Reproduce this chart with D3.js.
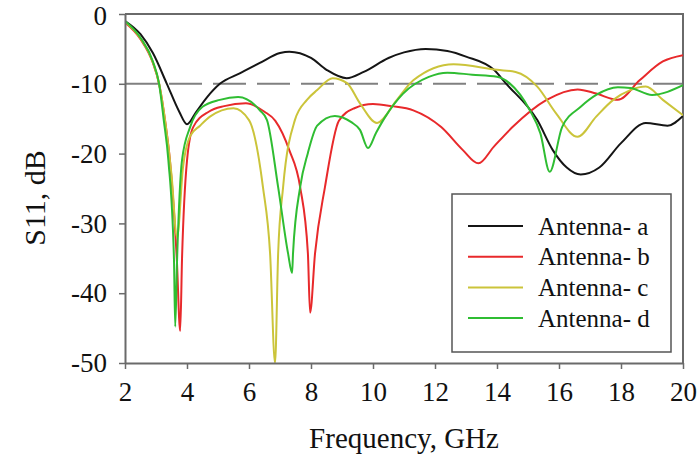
<!DOCTYPE html>
<html>
<head>
<meta charset="utf-8">
<script src="https://cdn.jsdelivr.net/npm/d3@7"></script>
<style>
  html, body { margin: 0; padding: 0; background: #fff; }
  svg { display: block; }
  text { font-family: "Liberation Serif", "Times New Roman", serif; fill: #111; }
</style>
</head>
<body>
<svg id="chart" width="700" height="474"></svg>
<script>
// Frequency sweep (GHz) and return loss S11 (dB) for each antenna
const freqA = [2.0, 2.5, 2.9, 3.35, 3.75, 4.0, 4.3, 4.65, 5.06, 5.7, 6.35, 7.0, 7.3, 8.0, 8.5, 9.15, 9.7, 10.5, 11.0, 11.7, 12.4, 13.0, 13.9, 14.3, 15.3, 15.8, 16.25, 16.7, 17.3, 18.0, 18.8, 19.5, 20.0];
const s11A  = [-1.0, -2.9, -5.6, -10.0, -14.0, -15.8, -14.0, -11.9, -10.0, -8.5, -7.0, -5.6, -5.4, -6.3, -8.0, -9.2, -8.3, -6.3, -5.5, -5.0, -5.3, -6.1, -8.0, -10.0, -15.2, -19.5, -22.0, -23.0, -22.0, -18.5, -15.6, -16.0, -14.6];

const freqB = [2.0, 2.5, 2.9, 3.1, 3.3, 3.45, 3.67, 3.78, 3.84, 4.0, 4.2, 4.7, 5.2, 5.9, 6.5, 6.85, 7.3, 7.65, 7.9, 7.97, 8.13, 8.45, 8.9, 9.4, 10.0, 10.6, 11.3, 12.2, 12.9, 13.4, 13.9, 14.5, 15.6, 16.6, 17.2, 17.9, 18.6, 19.35, 20.0];
const s11B  = [-1.2, -3.6, -7.0, -10.0, -15.5, -21.0, -35.0, -45.4, -35.0, -21.0, -16.2, -14.0, -13.2, -12.8, -14.0, -15.3, -19.5, -24.8, -34.3, -42.8, -34.3, -24.8, -15.3, -13.5, -12.9, -13.2, -13.8, -16.2, -19.5, -21.4, -19.0, -16.2, -12.3, -10.8, -11.4, -12.3, -9.5, -6.8, -5.9];

const freqC = [2.0, 2.5, 2.9, 3.1, 3.3, 3.5, 3.68, 3.87, 4.1, 4.42, 4.74, 5.5, 6.0, 6.45, 6.68, 6.84, 6.94, 7.1, 7.48, 7.87, 8.2, 8.7, 9.16, 9.58, 10.13, 10.77, 11.3, 12.6, 14.0, 14.6, 15.3, 15.9, 16.6, 17.2, 17.75, 18.3, 18.8, 19.35, 20.0];
const s11C  = [-1.1, -3.5, -6.9, -10.0, -15.5, -23.0, -32.0, -22.0, -17.5, -16.0, -14.7, -13.5, -15.2, -24.8, -34.3, -50.0, -34.3, -24.8, -15.2, -12.3, -10.9, -9.2, -9.9, -12.8, -15.6, -12.3, -9.5, -7.2, -8.0, -8.3, -10.4, -14.2, -17.6, -14.7, -12.3, -10.9, -10.4, -12.3, -14.5];

const freqD = [2.0, 2.5, 2.9, 3.1, 3.25, 3.4, 3.58, 3.62, 3.68, 3.84, 4.1, 4.5, 5.06, 5.65, 6.35, 6.58, 6.94, 7.26, 7.39, 7.42, 7.65, 7.9, 8.2, 8.77, 9.3, 9.58, 9.84, 10.1, 10.4, 10.97, 11.8, 12.4, 13.2, 14.0, 14.4, 15.06, 15.4, 15.7, 16.1, 16.7, 17.2, 17.9, 18.3, 19.0, 20.0];
const s11D  = [-1.0, -3.4, -6.8, -10.0, -15.2, -21.0, -35.2, -44.8, -35.2, -20.9, -16.2, -13.3, -12.3, -11.9, -13.8, -15.2, -24.8, -34.3, -37.1, -34.3, -24.8, -19.9, -16.0, -14.6, -15.5, -16.6, -19.2, -17.0, -14.7, -11.4, -9.0, -8.4, -8.7, -9.0, -9.9, -13.8, -17.1, -22.6, -16.2, -13.3, -11.6, -10.5, -10.6, -11.6, -10.2];

const seriesNames = ["Antenna- a", "Antenna- b", "Antenna- c", "Antenna- d"];
const seriesColors = ["#151515", "#e8292b", "#cbc43a", "#2fbd32"];
const xTicks = [2, 4, 6, 8, 10, 12, 14, 16, 18, 20];
const yTicks = [0, -10, -20, -30, -40, -50];
const threshold = -10;

const series = [
  { name: seriesNames[0], color: seriesColors[0], pts: freqA.map((f, i) => [f, s11A[i]]) },
  { name: seriesNames[1], color: seriesColors[1], pts: freqB.map((f, i) => [f, s11B[i]]) },
  { name: seriesNames[2], color: seriesColors[2], pts: freqC.map((f, i) => [f, s11C[i]]) },
  { name: seriesNames[3], color: seriesColors[3], pts: freqD.map((f, i) => [f, s11D[i]]) }
];

const svg = d3.select("#chart");
const plot = { left: 125, right: 683, top: 14, bottom: 363 };

const x = d3.scaleLinear().domain([2, 20]).range([plot.left, plot.right]);
const y = d3.scaleLinear().domain([-50, 0]).range([plot.bottom, plot.top]);

const axisColor = "#6a6a6a";
const serif = "'Liberation Serif', 'Times New Roman', serif";

svg.append("defs").append("clipPath").attr("id", "plotClip")
  .append("rect")
  .attr("x", plot.left).attr("y", plot.top)
  .attr("width", plot.right - plot.left).attr("height", plot.bottom - plot.top);

// -10 dB reference line
svg.append("line")
  .attr("x1", x(2)).attr("x2", x(20))
  .attr("y1", y(threshold)).attr("y2", y(threshold))
  .attr("stroke", "#808080").attr("stroke-width", 2)
  .attr("stroke-dasharray", "33,11");

// frame: top and right edges
svg.append("path")
  .attr("d", `M${plot.left},${plot.top}H${plot.right}V${plot.bottom}`)
  .attr("fill", "none").attr("stroke", axisColor).attr("stroke-width", 2);

// response curves
const line = d3.line()
  .x(d => x(d[0])).y(d => y(d[1]))
  .curve(d3.curveMonotoneX);

svg.append("g").attr("clip-path", "url(#plotClip)")
  .selectAll("path")
  .data(series)
  .join("path")
  .attr("d", d => line(d.pts))
  .attr("fill", "none")
  .attr("stroke", d => d.color)
  .attr("stroke-width", 2)
  .attr("stroke-linejoin", "round");

// axes
const xAxis = svg.append("g")
  .attr("transform", `translate(0,${plot.bottom})`)
  .call(d3.axisBottom(x).tickValues(xTicks).tickSize(6).tickSizeOuter(0).tickPadding(13).tickFormat(d => String(d)));
const yAxis = svg.append("g")
  .attr("transform", `translate(${plot.left},0)`)
  .call(d3.axisLeft(y).tickValues(yTicks).tickSize(6).tickSizeOuter(0).tickPadding(12).tickFormat(d => String(d)));

[xAxis, yAxis].forEach(g => {
  g.attr("font-family", serif).attr("font-size", 27);
  g.select(".domain").attr("stroke", axisColor).attr("stroke-width", 2);
  g.selectAll(".tick line").attr("stroke", axisColor).attr("stroke-width", 1.5);
  g.selectAll(".tick text")
    .style("font-family", serif)
    .style("font-size", "27px").attr("fill", "#111");
});
// keep the top label inside the drawing area
yAxis.selectAll(".tick text").filter(d => d === 0).attr("dy", "0.40em");

// axis titles
svg.append("text")
  .attr("x", (plot.left + plot.right) / 2).attr("y", 448)
  .attr("text-anchor", "middle")
  .style("font-family", serif)
  .style("font-size", "29px")
  .text("Frequency, GHz");

svg.append("text")
  .attr("transform", `translate(45,198) rotate(-90)`)
  .attr("text-anchor", "middle")
  .style("font-family", serif)
  .style("font-size", "30px")
  .text("S11, dB");

// legend
const legend = svg.append("g");
legend.append("rect")
  .attr("x", 452).attr("y", 194).attr("width", 219).attr("height", 158)
  .attr("fill", "#fff").attr("stroke", "#555").attr("stroke-width", 1.5);

const rows = legend.selectAll("g.row")
  .data(series)
  .join("g").attr("class", "row")
  .attr("transform", (d, i) => `translate(0,${226 + i * 30.7})`);
rows.append("line")
  .attr("x1", 468).attr("x2", 523)
  .attr("stroke", d => d.color).attr("stroke-width", 2);
rows.append("text")
  .attr("x", 538).attr("y", 8.5)
  .style("font-family", serif)
  .style("font-size", "25px")
  .text(d => d.name);
</script>
</body>
</html>
